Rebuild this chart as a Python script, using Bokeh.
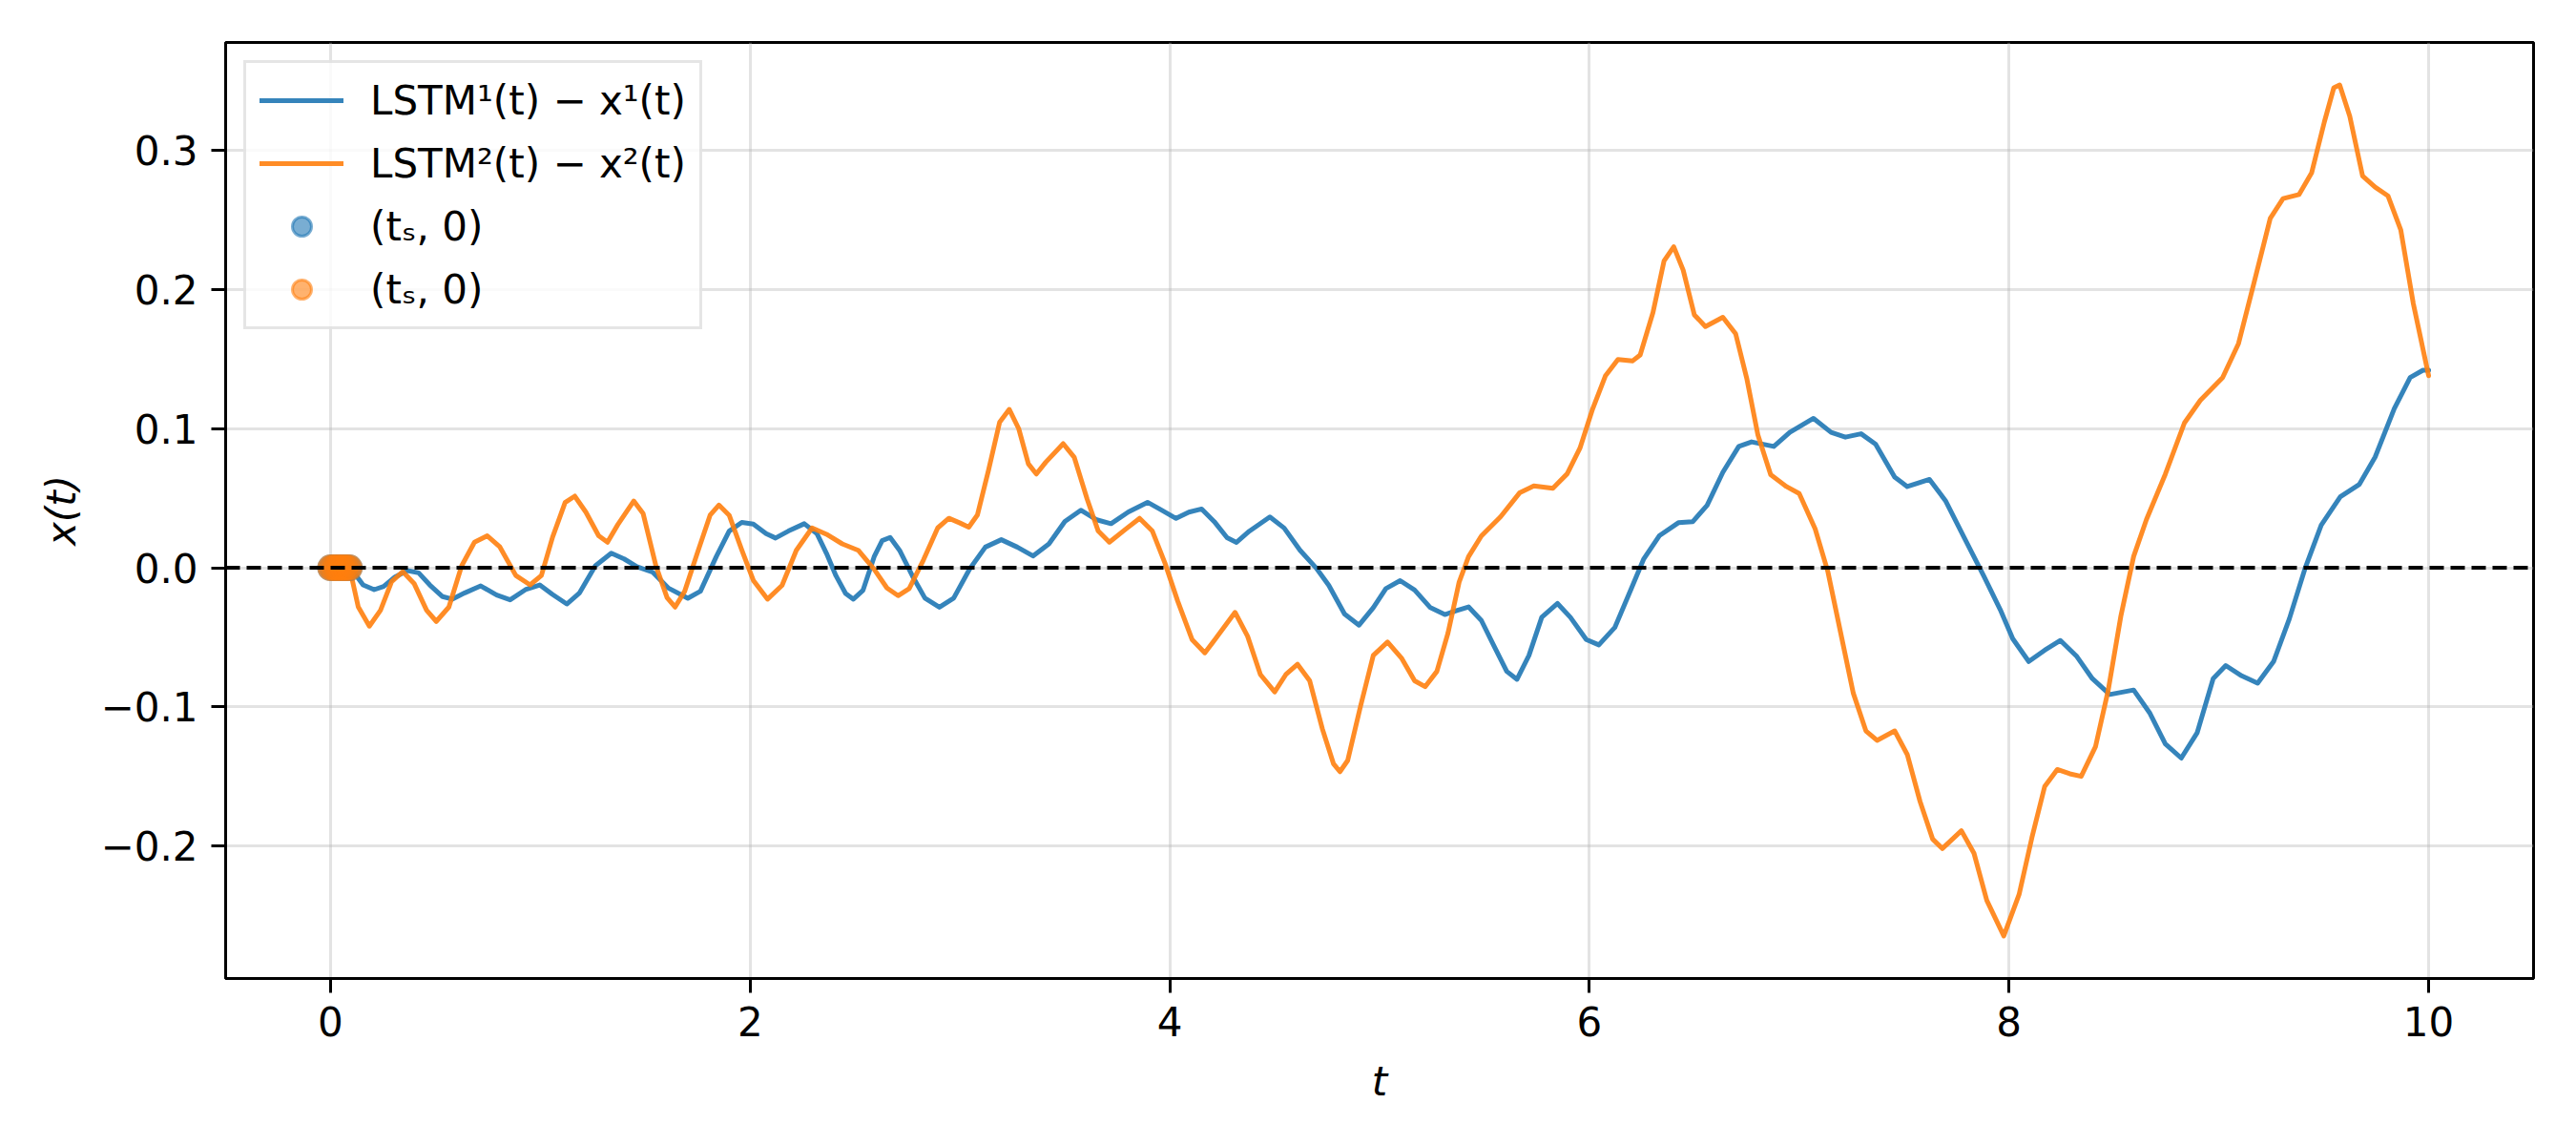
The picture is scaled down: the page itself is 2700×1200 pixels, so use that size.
from bokeh.plotting import figure
from bokeh.models import Range1d, Span, Legend, LegendItem, FixedTicker
from bokeh.embed import file_html
from bokeh.resources import INLINE

# ---- data ----
t_blue = [0.0, 0.06, 0.124, 0.155, 0.208, 0.253, 0.307, 0.367, 0.42, 0.473,
          0.534, 0.58, 0.64, 0.716, 0.792, 0.856, 0.929, 0.997, 1.058, 1.126,
          1.187, 1.262, 1.338, 1.399, 1.46, 1.536, 1.611, 1.703, 1.763, 1.839,
          1.90, 1.96, 2.015, 2.076, 2.121, 2.182, 2.258, 2.318, 2.364, 2.409,
          2.455, 2.492, 2.538, 2.591, 2.629, 2.667, 2.712, 2.773, 2.833, 2.902,
          2.97, 3.045, 3.121, 3.197, 3.273, 3.348, 3.424, 3.50, 3.576, 3.652,
          3.72, 3.803, 3.894, 3.955, 4.03, 4.091, 4.152, 4.212, 4.273, 4.318,
          4.379, 4.477, 4.545, 4.621, 4.697, 4.758, 4.833, 4.902, 4.97, 5.03,
          5.098, 5.167, 5.242, 5.311, 5.364, 5.424, 5.485, 5.545, 5.606, 5.655,
          5.712, 5.773, 5.848, 5.909, 5.985, 6.045, 6.121, 6.197, 6.258, 6.333,
          6.424, 6.492, 6.561, 6.636, 6.712, 6.773, 6.879, 6.955, 7.068, 7.152,
          7.22, 7.295, 7.364, 7.455, 7.515, 7.621, 7.697, 7.788, 7.879, 7.958,
          8.018, 8.094, 8.17, 8.245, 8.321, 8.397, 8.48, 8.594, 8.67, 8.745,
          8.821, 8.897, 8.973, 9.033, 9.109, 9.185, 9.261, 9.336, 9.412, 9.488,
          9.579, 9.67, 9.745, 9.836, 9.912, 9.973, 10.0]
v_blue = [0.0, -0.001, -0.006, -0.0123, -0.0157, -0.0134, -0.0066, -0.002, -0.0036, -0.0123,
          -0.0207, -0.0225, -0.018, -0.013, -0.0196, -0.023, -0.0157, -0.0123, -0.0191, -0.026,
          -0.018, 0.0014, 0.0105, 0.0064, 0.0009, -0.0032, -0.0146, -0.0219, -0.0168, 0.0082,
          0.0264, 0.0326, 0.0315, 0.0246, 0.0214, 0.0264, 0.0317, 0.0246, 0.0103, -0.0057,
          -0.0184, -0.0225, -0.0161, 0.008, 0.0195, 0.0218, 0.0126, -0.0057, -0.0218, -0.0283,
          -0.0218, -0.0011, 0.0149, 0.0202, 0.0149, 0.0085, 0.0172, 0.0333, 0.0414, 0.0345,
          0.0317, 0.0402, 0.0471, 0.042, 0.0355, 0.040, 0.0423, 0.0332, 0.0217, 0.0183,
          0.0263, 0.0366, 0.0286, 0.0126, 0.0, -0.0126, -0.0332, -0.0412, -0.0286, -0.0149,
          -0.0092, -0.016, -0.0286, -0.0336, -0.0309, -0.0281, -0.0378, -0.0561, -0.0744, -0.0801,
          -0.0629, -0.0355, -0.0256, -0.0355, -0.0515, -0.0554, -0.0429, -0.0159, 0.0061, 0.023,
          0.0324, 0.0331, 0.0449, 0.0686, 0.0872, 0.0905, 0.0872, 0.0973, 0.1074, 0.0973,
          0.0939, 0.0963, 0.0889, 0.0652, 0.0584, 0.0635, 0.0483, 0.0213, -0.0057, -0.030,
          -0.051, -0.0673, -0.0592, -0.0522, -0.0633, -0.0796, -0.091, -0.0878, -0.1041, -0.1265,
          -0.1367, -0.1184, -0.0796, -0.0702, -0.0776, -0.0829, -0.0673, -0.0367, 0.0, 0.0306,
          0.051, 0.060, 0.0796, 0.1143, 0.1367, 0.142, 0.142]

t_orange = [0.0, 0.06, 0.102, 0.132, 0.185, 0.238, 0.291, 0.344, 0.398, 0.458,
            0.504, 0.564, 0.625, 0.686, 0.747, 0.807, 0.883, 0.951, 1.005, 1.058,
            1.118, 1.164, 1.217, 1.278, 1.32, 1.369, 1.445, 1.49, 1.551, 1.604,
            1.642, 1.688, 1.748, 1.809, 1.851, 1.90, 1.96, 2.015, 2.083, 2.152,
            2.22, 2.295, 2.364, 2.439, 2.515, 2.591, 2.652, 2.705, 2.758, 2.826,
            2.894, 2.947, 3.0, 3.042, 3.083, 3.136, 3.189, 3.235, 3.28, 3.326,
            3.364, 3.409, 3.492, 3.545, 3.606, 3.659, 3.712, 3.788, 3.856, 3.917,
            3.977, 4.038, 4.106, 4.167, 4.227, 4.311, 4.371, 4.432, 4.50, 4.553,
            4.609, 4.667, 4.727, 4.78, 4.811, 4.848, 4.909, 4.97, 5.038, 5.106,
            5.167, 5.217, 5.273, 5.326, 5.379, 5.424, 5.485, 5.576, 5.667, 5.735,
            5.826, 5.894, 5.955, 6.015, 6.076, 6.136, 6.205, 6.242, 6.303, 6.356,
            6.402, 6.447, 6.5, 6.553, 6.636, 6.697, 6.75, 6.803, 6.864, 6.939,
            7.0, 7.076, 7.136, 7.197, 7.258, 7.318, 7.371, 7.455, 7.515, 7.576,
            7.636, 7.682, 7.773, 7.833, 7.894, 7.975, 8.048, 8.109, 8.17, 8.23,
            8.29, 8.344, 8.412, 8.473, 8.533, 8.594, 8.655, 8.745, 8.836, 8.912,
            9.018, 9.094, 9.17, 9.245, 9.306, 9.382, 9.442, 9.503, 9.548, 9.576,
            9.624, 9.685, 9.745, 9.806, 9.867, 9.927, 10.0]
v_orange = [0.0, 0.0, -0.0077, -0.028, -0.0419, -0.0305, -0.010, -0.0027, -0.0112, -0.0305,
            -0.0385, -0.0282, 0.0014, 0.0184, 0.023, 0.015, -0.0055, -0.0123, -0.0055, 0.0219,
            0.0469, 0.0515, 0.040, 0.023, 0.0184, 0.031, 0.048, 0.0389, 0.0014, -0.0214,
            -0.0282, -0.0168, 0.0105, 0.0378, 0.0451, 0.0378, 0.0128, -0.009, -0.0225, -0.0126,
            0.0126, 0.0287, 0.0241, 0.0172, 0.0126, -0.0011, -0.0145, -0.020, -0.0149, 0.0057,
            0.0287, 0.0356, 0.0322, 0.0292, 0.0379, 0.0701, 0.1046, 0.1138, 0.100, 0.0747,
            0.0674, 0.0759, 0.0892, 0.0793, 0.0494, 0.0264, 0.0184, 0.0276, 0.0356, 0.0264,
            0.0034, -0.024, -0.0515, -0.0611, -0.0492, -0.032, -0.0492, -0.0767, -0.0892, -0.0767,
            -0.0693, -0.0812, -0.1156, -0.1407, -0.1465, -0.1384, -0.0995, -0.0629, -0.0533, -0.0652,
            -0.0812, -0.0854, -0.0744, -0.0469, -0.0103, 0.008, 0.0229, 0.0366, 0.0538, 0.0588,
            0.0572, 0.0675, 0.086, 0.114, 0.1378, 0.1497, 0.1486, 0.153, 0.1834, 0.2206,
            0.2307, 0.2139, 0.1818, 0.1733, 0.180, 0.1682, 0.1361, 0.0956, 0.0669, 0.0584,
            0.0534, 0.028, -0.0024, -0.0463, -0.0902, -0.1172, -0.124, -0.1172, -0.1341, -0.1679,
            -0.1949, -0.2017, -0.1889, -0.2051, -0.2389, -0.2645, -0.2347, -0.1939, -0.1571, -0.1449,
            -0.148, -0.1498, -0.1286, -0.0878, -0.0347, 0.0082, 0.0347, 0.0673, 0.1041, 0.1204,
            0.1367, 0.1612, 0.2061, 0.251, 0.2653, 0.2682, 0.2837, 0.3204, 0.3449, 0.3469,
            0.3245, 0.2816, 0.2735, 0.2673, 0.2429, 0.1898, 0.138]

t_s = [0.0, 0.015, 0.03, 0.045, 0.06, 0.075, 0.09]
x_s = [0.0, 0.0, 0.0, 0.0, 0.0, 0.0, 0.0]

x_ticks = [0, 2, 4, 6, 8, 10]
x_tick_labels = ["0", "2", "4", "6", "8", "10"]
y_ticks = [-0.2, -0.1, 0.0, 0.1, 0.2, 0.3]
y_tick_labels = ["\u22120.2", "\u22120.1", "0.0", "0.1", "0.2", "0.3"]

legend_labels = ["LSTM\u00b9(t) \u2212 x\u00b9(t)", "LSTM\u00b2(t) \u2212 x\u00b2(t)",
                 "(t\u209b, 0)", "(t\u209b, 0)"]
x_label = "t"
y_label = "x(t)"

C_BLUE = "#1f77b4"
C_ORANGE = "#ff7f0e"
FONT = "DejaVu Sans"

# matplotlib-like auto limits (5% margins)
all_t = t_blue + t_orange + t_s
all_v = v_blue + v_orange + x_s
tmin, tmax = min(all_t), max(all_t)
vmin, vmax = min(all_v), max(all_v)
tpad = 0.05 * (tmax - tmin)
vpad = 0.05 * (vmax - vmin)

p = figure(width=2684, height=1184, output_backend="svg", toolbar_location=None,
           x_range=Range1d(tmin - tpad, tmax + tpad),
           y_range=Range1d(vmin - vpad, vmax + vpad),
           min_border_left=236, min_border_right=29, min_border_top=44,
           min_border_bottom=159)

p.background_fill_color = "white"
p.border_fill_color = "white"
p.outline_line_color = "black"
p.outline_line_width = 3

# grid
for g in (p.xgrid, p.ygrid):
    g.grid_line_color = "#b0b0b0"
    g.grid_line_alpha = 0.35
    g.grid_line_width = 3
p.xgrid.ticker = FixedTicker(ticks=x_ticks)
p.ygrid.ticker = FixedTicker(ticks=y_ticks)

# axes
for ax in (p.xaxis, p.yaxis):
    ax.axis_line_color = "black"
    ax.axis_line_width = 3
    ax.major_tick_line_color = "black"
    ax.major_tick_line_width = 3
    ax.major_tick_out = 15
    ax.major_tick_in = 0
    ax.minor_tick_line_color = None
    ax.major_label_text_font = FONT
    ax.major_label_text_font_size = "42px"
    ax.major_label_text_color = "black"
    ax.major_label_standoff = 14
    ax.axis_label_text_font = FONT
    ax.axis_label_text_font_size = "42px"
    ax.axis_label_text_font_style = "italic"
    ax.axis_label_text_color = "black"

p.xaxis.ticker = FixedTicker(ticks=x_ticks)
p.yaxis.ticker = FixedTicker(ticks=y_ticks)
p.xaxis.major_label_overrides = dict(zip(x_ticks, x_tick_labels))
p.yaxis.major_label_overrides = dict(zip(y_ticks, y_tick_labels))
p.xaxis.axis_label = x_label
p.yaxis.axis_label = y_label
p.xaxis.axis_label_standoff = 20
p.yaxis.axis_label_standoff = 14

# series
r1 = p.line(t_blue, v_blue, line_color=C_BLUE, line_alpha=0.9, line_width=5,
            line_join="round", line_cap="round")
r2 = p.line(t_orange, v_orange, line_color=C_ORANGE, line_alpha=0.9, line_width=5,
            line_join="round", line_cap="round")
r3 = p.scatter(t_s, x_s, marker="circle", size=25, fill_color=C_BLUE, fill_alpha=0.6,
               line_color=C_BLUE, line_alpha=0.6, line_width=3)
r4 = p.scatter(t_s, x_s, marker="circle", size=25, fill_color=C_ORANGE, fill_alpha=0.6,
               line_color=C_ORANGE, line_alpha=0.6, line_width=3)

zero = Span(location=0, dimension="width", line_color="black", line_width=4,
            line_dash="15 7")
p.add_layout(zero)

legend = Legend(items=[LegendItem(label=legend_labels[0], renderers=[r1]),
                       LegendItem(label=legend_labels[1], renderers=[r2]),
                       LegendItem(label=legend_labels[2], renderers=[r3]),
                       LegendItem(label=legend_labels[3], renderers=[r4])],
                location="top_left", margin=19, padding=14, spacing=16,
                glyph_width=88, glyph_height=50, label_height=50,
                label_standoff=28,
                label_text_font=FONT, label_text_font_size="42px",
                label_text_color="black",
                border_line_color="#cccccc", border_line_width=3,
                background_fill_color="white", background_fill_alpha=0.8)
p.add_layout(legend)

open("out.html", "w").write(file_html(p, INLINE))
